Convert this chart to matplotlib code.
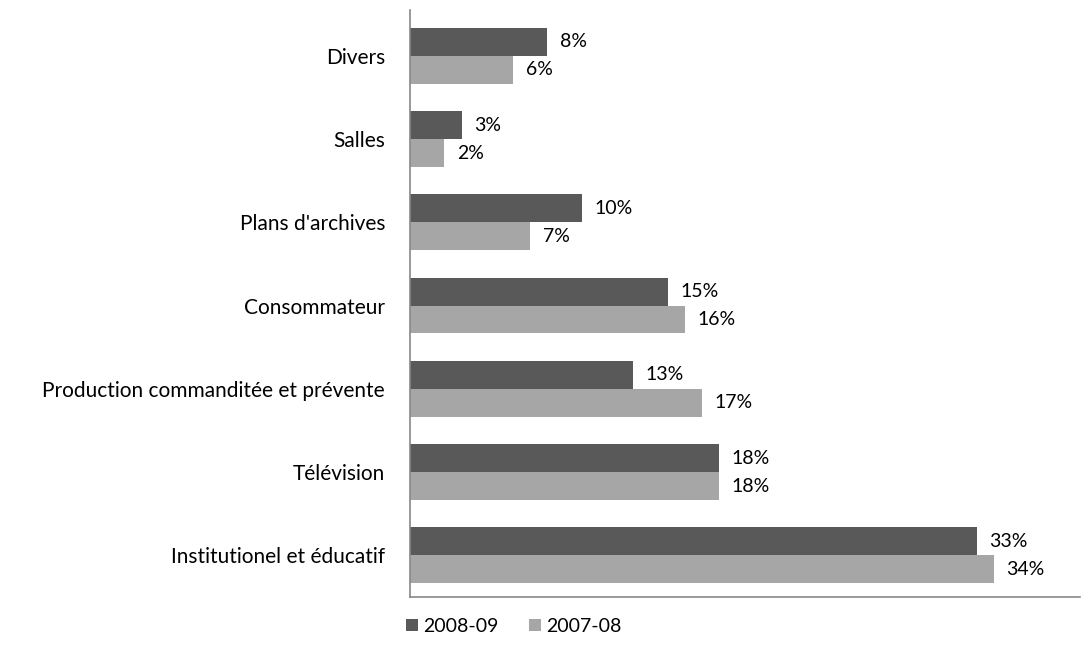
import matplotlib
matplotlib.use("Agg")
import matplotlib.pyplot as plt
import numpy as np

categories = ["Divers", "Salles", "Plans d'archives", "Consommateur",
              "Production commanditée et prévente", "Télévision",
              "Institutionel et éducatif"]
series_names = ["2008-09", "2007-08"]
values_0809 = [8, 3, 10, 15, 13, 18, 33]
values_0708 = [6, 2, 7, 16, 17, 18, 34]

plt.rcParams['font.family'] = ['Lato', 'DejaVu Sans']

fig = plt.figure(figsize=(10.88, 6.49), dpi=100)
ax = fig.add_axes([410/1088, 1 - 597/649, 670/1088, 587/649])

y = np.arange(len(categories))
h = 0.335
dark = "#595959"
light = "#A6A6A6"
b1 = ax.barh(y - h/2, values_0809, height=h, color=dark, label=series_names[0])
b2 = ax.barh(y + h/2, values_0708, height=h, color=light, label=series_names[1])

fs = 14
for bars, vals in ((b1, values_0809), (b2, values_0708)):
    for rect, v in zip(bars, vals):
        ax.annotate(f"{v}%", xy=(rect.get_width(), rect.get_y() + rect.get_height()/2),
                    xytext=(9, 0), textcoords="offset points", va="center", ha="left",
                    fontsize=fs, color="black")

ax.set_ylim(6.5, -0.55)
ax.set_xlim(0, 39)
ax.set_yticks(y)
ax.set_yticklabels(categories, fontsize=15)
ax.tick_params(axis='y', length=0, pad=18)
ax.set_xticks([])
for s in ["top", "right"]:
    ax.spines[s].set_visible(False)
for s in ["left", "bottom"]:
    ax.spines[s].set_color("#888888")
    ax.spines[s].set_linewidth(1.2)

ax.legend(loc="upper center", bbox_to_anchor=(0.155, -0.006), ncol=2, frameon=False,
          fontsize=14, handlelength=0.6, handleheight=0.6, handletextpad=0.25,
          columnspacing=1.6)

fig.savefig("out.png", dpi=100)
